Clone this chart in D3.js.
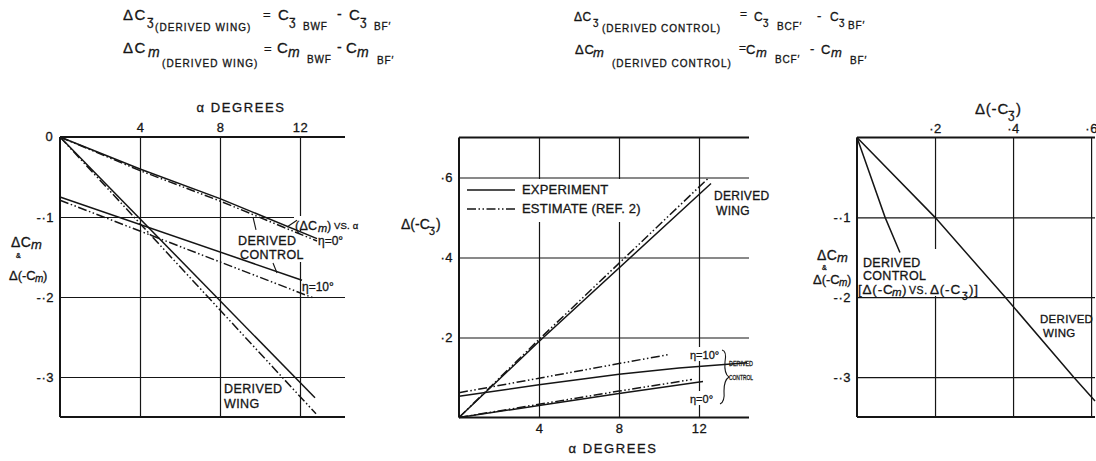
<!DOCTYPE html>
<html>
<head>
<meta charset="utf-8">
<script src="https://cdn.jsdelivr.net/npm/d3@7"></script>
<style>
  body { margin: 0; background: #fff; }
  svg text { font-family: "Liberation Sans", Arial, sans-serif; fill: #151515; stroke: #151515; stroke-width: 0.3px; }
</style>
</head>
<body>
<svg id="chart" width="1096" height="461"></svg>
<script>
// ---- tick values and labels ----
const alphaTicks = [4, 8, 12];
const alphaTickLabels = ["4", "8", "12"];
const cmTicks = [-0.1, -0.2, -0.3];
const cmTickLabels = ["-·1", "-·2", "-·3"];
const czTicks = [0.2, 0.4, 0.6];
const czTickLabels = ["·2", "·4", "·6"];

// ---- left panel: ΔCm against α ----
const cmControl0Exp  = [[0, 0], [4, -0.040], [8, -0.077], [12.85, -0.127]];
const cmControl0Est  = [[0, 0], [4, -0.042], [8, -0.080], [12.85, -0.130]];
const cmControl10Exp = [[0, -0.075], [12.1, -0.179]];
const cmControl10Est = [[0, -0.079], [12.65, -0.201]];
const cmWingExp      = [[0, 0], [12.75, -0.326]];
const cmWingEst      = [[0, 0], [12.8, -0.346]];

// ---- middle panel: Δ(-Cz) against α ----
const czWingExp      = [[0, 0], [4, 0.19], [12.6, 0.585]];
const czWingEst      = [[0, 0], [4, 0.195], [12.5, 0.60]];
const czControl10Exp = [[0, 0.053], [4, 0.082], [8, 0.108], [11, 0.124], [14.4, 0.137]];
const czControl10Est = [[0, 0.062], [4, 0.098], [8, 0.135], [10.45, 0.157]];
const czControl0Exp  = [[0, 0], [4, 0.030], [8, 0.060], [12.2, 0.090]];
const czControl0Est  = [[0, 0], [4, 0.033], [8, 0.066], [11.65, 0.095]];

// ---- right panel: Δ(-Cm) against Δ(-Cz) ----
const pitchControl = [[0, 0], [0.072, -0.1], [0.11, -0.144]];
const pitchWing    = [[0, 0], [0.2, -0.1], [0.38, -0.2], [0.555, -0.3], [0.61, -0.33]];

const INK = "#151515";
const DASH_DOT = "9,2.5,1.5,2.5,1.5,2.5";

const svg = d3.select("#chart");
const gridLayer = svg.append("g");
const maskLayer = svg.append("g");
const lineLayer = svg.append("g");
const textLayer = svg.append("g");

// scales for the three panels
const xL = d3.scaleLinear().domain([0, 14.25]).range([60, 345]);
const yL = d3.scaleLinear().domain([0, -0.35]).range([137, 417]);
const xM = d3.scaleLinear().domain([0, 14.5]).range([459, 749]);
const yM = d3.scaleLinear().domain([0, 0.7]).range([417.5, 137.5]);
const xR = d3.scaleLinear().domain([0, 0.61]).range([857, 1095]);
const yR = d3.scaleLinear().domain([0, -0.35]).range([137.5, 417]);

function styleAxis(sel, size) {
  sel.select(".domain").remove();
  sel.selectAll("text")
    .attr("fill", INK)
    .style("font-family", '"Liberation Sans", Arial, sans-serif')
    .style("font-size", size + "px")
    .style("letter-spacing", "0.5px");
}

function styleGrid(sel) {
  sel.select(".domain").remove();
  sel.selectAll("line").attr("stroke", INK).attr("stroke-width", 1.2);
}

// grid, frame and tick labels of one panel
function panelFrame(x, y, xTicks, yTicks, xAxisPos, xLabels, yLabels) {
  const [xa, xb] = x.range();
  const yTop = Math.min(...y.range()), yBot = Math.max(...y.range());

  gridLayer.append("g").attr("transform", `translate(0,${yTop})`)
    .call(d3.axisTop(x).tickValues(xTicks).tickSize(-(yBot - yTop)).tickFormat(""))
    .call(styleGrid);
  gridLayer.append("g").attr("transform", `translate(${xa},0)`)
    .call(d3.axisLeft(y).tickValues(yTicks).tickSize(-(xb - xa)).tickFormat(""))
    .call(styleGrid);

  // frame: top, bottom, left
  const frame = gridLayer.append("g").attr("stroke", INK).attr("fill", "none");
  frame.append("line").attr("x1", xa).attr("x2", xb).attr("y1", yTop).attr("y2", yTop).attr("stroke-width", 1.8);
  frame.append("line").attr("x1", xa).attr("x2", xb).attr("y1", yBot).attr("y2", yBot).attr("stroke-width", 1.8);
  frame.append("line").attr("x1", xa).attr("x2", xa).attr("y1", yTop).attr("y2", yBot).attr("stroke-width", 2);

  const xAxis = (xAxisPos === "top" ? d3.axisTop(x) : d3.axisBottom(x))
    .tickValues(xTicks).tickSize(0).tickPadding(xAxisPos === "top" ? 5 : 6)
    .tickFormat((d, i) => xLabels[i]);
  textLayer.append("g")
    .attr("transform", `translate(0,${xAxisPos === "top" ? yTop : yBot})`)
    .call(xAxis).call(s => styleAxis(s, 13));

  textLayer.append("g").attr("transform", `translate(${xa},0)`)
    .call(d3.axisLeft(y).tickValues(yTicks).tickSize(0).tickPadding(6)
      .tickFormat((d, i) => yLabels[i]))
    .call(s => styleAxis(s, 13));
}

function series(x, y, data, dashed) {
  lineLayer.append("path")
    .datum(data)
    .attr("fill", "none")
    .attr("stroke", INK)
    .attr("stroke-width", 1.5)
    .attr("stroke-dasharray", dashed ? DASH_DOT : null)
    .attr("d", d3.line().x(d => x(d[0])).y(d => y(d[1])));
}

function mask(x, y, w, h) {
  maskLayer.append("rect").attr("x", x).attr("y", y).attr("width", w).attr("height", h).attr("fill", "#fff");
}

function leader(x1, y1, x2, y2) {
  lineLayer.append("line").attr("x1", x1).attr("y1", y1).attr("x2", x2).attr("y2", y2)
    .attr("stroke", INK).attr("stroke-width", 1.1);
}

// text made of positioned pieces: [string, x, y, size, italic, spacing]
function pieces(list) {
  list.forEach(([s, x, y, size, italic, ls]) => {
    textLayer.append("text")
      .attr("x", x).attr("y", y)
      .style("font-size", size + "px")
      .style("font-style", italic ? "italic" : "normal")
      .style("letter-spacing", (ls || 0) + "px")
      .text(s);
  });
}

function label(s, x, y, size, anchor, ls) {
  return textLayer.append("text")
    .attr("x", x).attr("y", y)
    .attr("text-anchor", anchor || "start")
    .style("font-size", size + "px")
    .style("letter-spacing", (ls || 0) + "px")
    .text(s);
}

// ================= left panel =================
panelFrame(xL, yL, alphaTicks, cmTicks, "top", alphaTickLabels, cmTickLabels);
label("0", 49, 141, 13, "middle");
label("α DEGREES", 241, 112, 13, "middle", 1.6);

// label backgrounds
mask(236, 231, 68, 31);
mask(294, 216, 66, 14);

series(xL, yL, cmControl0Exp, false);
series(xL, yL, cmControl0Est, true);
series(xL, yL, cmControl10Exp, false);
series(xL, yL, cmControl10Est, true);
series(xL, yL, cmWingExp, false);
series(xL, yL, cmWingEst, true);

// annotations
leader(xL(9.65), yL(-0.100), xL(9.8), yL(-0.116));
leader(xL(10.65), yL(-0.1575), xL(10.85), yL(-0.170));
leader(xL(11.35), yL(-0.1125), xL(11.85), yL(-0.104));
label("DERIVED", 238, 245, 12.5, "start", 0.4);
label("CONTROL", 240, 259, 12.5, "start", 0.4);
pieces([
  ["(ΔC", 295, 230, 12.5, false, 0.3],
  ["m", 318, 232, 11, true],
  [")", 327, 230, 12.5],
  ["VS. α", 334, 229, 9.5, false, 0.2]
]);
label("η=0°", 318, 245, 12, "start");
label("η=10°", 302, 291, 12, "start");
label("DERIVED", 224, 393, 12.5, "start", 0.4);
label("WING", 224, 408, 12.5, "start", 0.4);

// axis title
pieces([
  ["ΔC", 11, 247, 14, false, 0.5],
  ["m", 31, 249, 13, true],
  ["&", 16, 258, 7],
  ["Δ(-C", 9, 280, 13],
  ["m", 35, 282, 10, true],
  [")", 43, 280, 13]
]);

// ================= middle panel =================
panelFrame(xM, yM, alphaTicks, czTicks, "bottom", alphaTickLabels, czTickLabels);
label("α DEGREES", 613, 453, 13, "middle", 1.6);

// legend background and η label backgrounds
mask(461, 179, 191, 43);
mask(688, 347, 36, 14);
mask(688, 391, 36, 14);

series(xM, yM, czWingExp, false);
series(xM, yM, czWingEst, true);
series(xM, yM, czControl10Exp, false);
series(xM, yM, czControl10Est, true);
series(xM, yM, czControl0Exp, false);
series(xM, yM, czControl0Est, true);

// legend
lineLayer.append("line").attr("x1", 467).attr("x2", 515).attr("y1", 190).attr("y2", 190)
  .attr("stroke", INK).attr("stroke-width", 1.5);
lineLayer.append("line").attr("x1", 467).attr("x2", 515).attr("y1", 209).attr("y2", 209)
  .attr("stroke", INK).attr("stroke-width", 1.5).attr("stroke-dasharray", DASH_DOT);
label("EXPERIMENT", 522, 194, 13, "start", 0.2);
label("ESTIMATE  (REF. 2)", 522, 213, 13, "start", 0.2);

label("DERIVED", 714, 200, 12, "start", 0.3);
label("WING", 716, 215, 12, "start", 0.3);
label("η=10°", 690, 359, 11, "start");
label("η=0°", 690, 403, 11, "start");
lineLayer.append("path")
  .attr("d", "M722,350 Q727,351 725,362 Q724,374 729,377 Q724,380 724,391 Q725,402 720,404")
  .attr("fill", "none").attr("stroke", INK).attr("stroke-width", 1.1);
label("DERIVED", 729, 366, 7.5, "start").attr("textLength", 24).attr("lengthAdjust", "spacingAndGlyphs");
label("CONTROL", 729, 380, 7.5, "start").attr("textLength", 24).attr("lengthAdjust", "spacingAndGlyphs");

pieces([
  ["Δ(-C", 401, 229, 14],
  ["ʒ", 429, 233, 11],
  [")", 436, 229, 14]
]);

// ================= right panel =================
panelFrame(xR, yR, czTicks, cmTicks, "top", czTickLabels, cmTickLabels);

mask(859, 249, 130, 47);

series(xR, yR, pitchControl, false);
series(xR, yR, pitchWing, false);

label("DERIVED", 863, 267, 12.5, "start", 0.3);
label("CONTROL", 863, 280, 12.5, "start", 0.3);
pieces([
  ["[Δ(-C", 858, 294, 13.5, false, 0.8],
  ["m", 892, 296, 11.5, true],
  [")", 902, 294, 13.5],
  ["VS.", 909, 294, 10.5, false, 0.6],
  ["Δ(-C", 930, 294, 13.5, false, 0.8],
  ["ʒ", 962, 298, 10.5],
  [")]", 969, 294, 13.5, false, 0.8]
]);
label("DERIVED", 1040, 323, 11.5, "start", 0.3);
label("WING", 1043, 337, 11.5, "start", 0.3);

pieces([
  ["Δ(-C", 975, 114, 15, false, 0.8],
  ["ʒ", 1008, 118, 12],
  [")", 1016, 114, 15],
  ["ΔC", 817, 260, 14, false, 0.5],
  ["m", 837, 262, 13, true],
  ["&", 822, 270, 7],
  ["Δ(-C", 813, 284, 13],
  ["m", 839, 286, 10, true],
  [")", 847, 284, 13]
]);

// ================= defining relations =================
pieces([
  ["ΔC", 123, 20, 15, false, 1.5],
  ["ʒ", 147, 25, 12],
  ["(DERIVED WING)", 155, 31, 10, false, 1.1],
  ["=", 263, 19, 13],
  ["C", 278, 20, 15],
  ["ʒ", 289, 25, 12],
  ["BWF", 303, 30, 10, false, 0.8],
  ["-", 337, 19, 14],
  ["C", 349, 20, 15],
  ["ʒ", 360, 25, 12],
  ["BF′", 374, 30, 10, false, 0.8],

  ["ΔC", 123, 53, 15, false, 1.5],
  ["m", 148, 57, 14, true],
  ["(DERIVED WING)", 162, 67, 10, false, 1.1],
  ["=", 264, 53, 13],
  ["C", 277, 53, 15],
  ["m", 288, 57, 14, true],
  ["BWF", 307, 63, 10, false, 0.8],
  ["-", 337, 52, 14],
  ["C", 346, 53, 15],
  ["m", 357, 57, 14, true],
  ["BF′", 377, 64, 10, false, 0.8],

  ["ΔC", 574, 21, 12, false, 0.5],
  ["ʒ", 593, 25, 10],
  ["(DERIVED  CONTROL)", 602, 32, 10, false, 0.95],
  ["=", 740, 18, 12],
  ["C", 754, 21, 12],
  ["ʒ", 763, 25, 10],
  ["BCF′", 777, 30, 10, false, 0.8],
  ["-", 817, 20, 13],
  ["C", 830, 21, 12],
  ["ʒ", 839, 25, 10],
  ["BF′", 848, 29, 10, false, 0.8],

  ["ΔC", 575, 54, 13, false, 0.8],
  ["m", 593, 57, 13, true],
  ["(DERIVED  CONTROL)", 612, 67, 10, false, 1.0],
  ["=", 739, 52, 12],
  ["C", 746, 54, 13],
  ["m", 756, 57, 13, true],
  ["BCF′", 775, 63, 10, false, 0.8],
  ["-", 810, 53, 13],
  ["C", 821, 54, 13],
  ["m", 831, 57, 13, true],
  ["BF′", 850, 64, 10, false, 0.8]
]);
</script>
</body>
</html>
